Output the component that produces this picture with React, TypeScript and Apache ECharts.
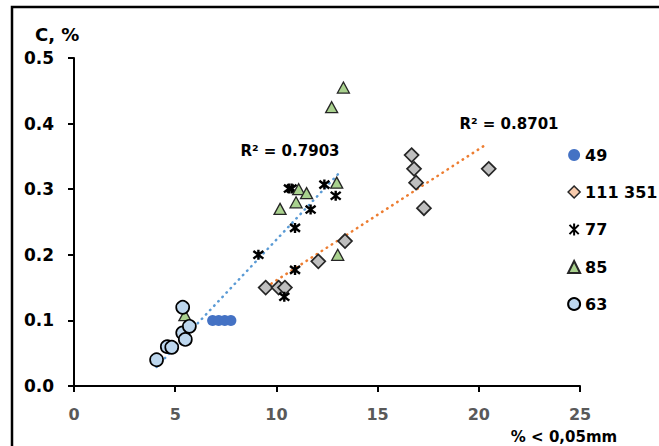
import React, { useEffect, useRef } from "react";
import * as echarts from "echarts";

const s49: number[][] = [[6.85, 0.1], [7.15, 0.1], [7.45, 0.1], [7.75, 0.1]];
const s111351: number[][] = [
  [9.47, 0.15], [10.11, 0.15], [10.42, 0.15], [12.07, 0.19], [13.39, 0.221],
  [16.68, 0.352], [16.8, 0.331], [16.9, 0.31], [17.29, 0.271], [20.49, 0.331],
];
const s77: number[][] = [
  [9.11, 0.2], [10.39, 0.136], [10.62, 0.301], [10.75, 0.301], [10.92, 0.241],
  [10.92, 0.177], [11.69, 0.269], [12.37, 0.307], [12.93, 0.29],
];
const s85: number[][] = [
  [5.48, 0.108], [10.18, 0.27], [10.97, 0.28], [11.1, 0.3], [11.49, 0.294],
  [12.73, 0.425], [12.98, 0.31], [13.03, 0.2], [13.31, 0.455],
];
const s63: number[][] = [
  [4.08, 0.04], [4.61, 0.06], [4.83, 0.059], [5.37, 0.12], [5.37, 0.081],
  [5.5, 0.071], [5.7, 0.091],
];
const trendBlue: number[][] = [[4.08, 0.029], [13.14, 0.326]];
const trendOrange: number[][] = [[9.5, 0.151], [20.4, 0.369]];
const r2Blue = "R² = 0.7903";
const r2Orange = "R² = 0.8701";
const legendNames = ["49", "111 351", "77", "85", "63"];

const FONT = "DejaVu Sans";
const STAR = "path://M0,0L10,10M10,0L0,10M5,-1.5L5,11.5";

export default function App() {
  const ref = useRef<HTMLDivElement>(null);
  useEffect(() => {
    if (!ref.current) return;
    const chart = echarts.init(ref.current, null, { renderer: "svg" });
    const dotted = { width: 2.5, type: [0.5, 5.5], cap: "round" };
    chart.setOption({
      animation: false,
      backgroundColor: "#fff",
      textStyle: { fontFamily: FONT },
      grid: { left: 74, right: 79, top: 58, bottom: 60 },
      xAxis: {
        type: "value",
        min: 0,
        max: 25,
        interval: 5,
        splitLine: { show: false },
        axisLine: { show: true, onZero: false, lineStyle: { color: "#000", width: 2 } },
        axisTick: { show: true, length: 6, lineStyle: { color: "#000", width: 2 } },
        axisLabel: { color: "#595959", fontFamily: FONT, fontWeight: "bold", fontSize: 16, margin: 20 },
      },
      yAxis: {
        type: "value",
        min: 0,
        max: 0.5,
        interval: 0.1,
        splitLine: { show: false },
        axisLine: { show: true, onZero: false, lineStyle: { color: "#000", width: 2 } },
        axisTick: { show: true, length: 6, lineStyle: { color: "#000", width: 2 } },
        axisLabel: {
          color: "#000",
          fontFamily: FONT,
          fontWeight: "bold",
          fontSize: 17,
          margin: 20,
          formatter: (v: number) => v.toFixed(1),
        },
      },
      legend: {
        orient: "vertical",
        left: 567,
        top: 147,
        padding: 0,
        itemWidth: 12,
        itemHeight: 12,
        itemGap: 21,
        textStyle: { fontFamily: FONT, fontWeight: "bold", fontSize: 16, color: "#000", lineHeight: 16 },
        data: [
          { name: "49" },
          { name: "111 351", itemStyle: { color: "#F8CBAD", borderColor: "#262626", borderWidth: 1.5 } },
          { name: "77" },
          { name: "85" },
          { name: "63" },
        ],
      },
      graphic: [
        {
          type: "rect",
          shape: { x: 12, y: 7, width: 700, height: 500 },
          style: { fill: "none", stroke: "#000", lineWidth: 2.5 },
          silent: true,
        },
        {
          type: "text",
          x: 35,
          y: 34,
          style: { text: "C, %", font: `bold 18px '${FONT}'`, fill: "#000", verticalAlign: "middle" },
        },
        {
          type: "text",
          x: 564,
          y: 437,
          style: { text: "% < 0,05mm", font: `bold 15px '${FONT}'`, fill: "#000", align: "center", verticalAlign: "middle" },
        },
        {
          type: "text",
          x: 290,
          y: 151,
          style: { text: r2Blue, font: `bold 15px '${FONT}'`, fill: "#000", align: "center", verticalAlign: "middle" },
        },
        {
          type: "text",
          x: 509,
          y: 124,
          style: { text: r2Orange, font: `bold 15px '${FONT}'`, fill: "#000", align: "center", verticalAlign: "middle" },
        },
      ],
      series: [
        {
          name: "trendBlue",
          type: "line",
          data: trendBlue,
          showSymbol: false,
          z: 1,
          lineStyle: { ...dotted, color: "#5B9BD5" },
          silent: true,
        },
        {
          name: "trendOrange",
          type: "line",
          data: trendOrange,
          showSymbol: false,
          z: 1,
          lineStyle: { ...dotted, color: "#ED7D31" },
          silent: true,
        },
        {
          name: legendNames[0],
          type: "scatter",
          data: s49,
          symbol: "circle",
          symbolSize: 11,
          z: 3,
          itemStyle: { color: "#4472C4", opacity: 1 },
        },
        {
          name: legendNames[1],
          type: "scatter",
          data: s111351,
          symbol: "diamond",
          symbolSize: [14, 14],
          z: 3,
          itemStyle: { color: "#BFBFBF", borderColor: "#262626", borderWidth: 1.7, opacity: 1 },
        },
        {
          name: legendNames[2],
          type: "scatter",
          data: s77,
          symbol: STAR,
          symbolSize: 10,
          z: 3,
          itemStyle: { color: "none", borderColor: "#000", borderWidth: 2.4, opacity: 1 },
        },
        {
          name: legendNames[3],
          type: "scatter",
          data: s85,
          symbol: "triangle",
          symbolSize: [12, 11],
          z: 3,
          itemStyle: { color: "#A9D18E", borderColor: "#262626", borderWidth: 1.3, opacity: 1 },
        },
        {
          name: legendNames[4],
          type: "scatter",
          data: s63,
          symbol: "circle",
          symbolSize: 13,
          z: 3,
          itemStyle: { color: "#BDD7EE", borderColor: "#000", borderWidth: 1.7, opacity: 1 },
        },
      ],
    });
    return () => chart.dispose();
  }, []);
  return (
    <div
      ref={ref}
      style={{ position: "fixed", left: 0, top: 0, width: 659, height: 446 }}
    />
  );
}
